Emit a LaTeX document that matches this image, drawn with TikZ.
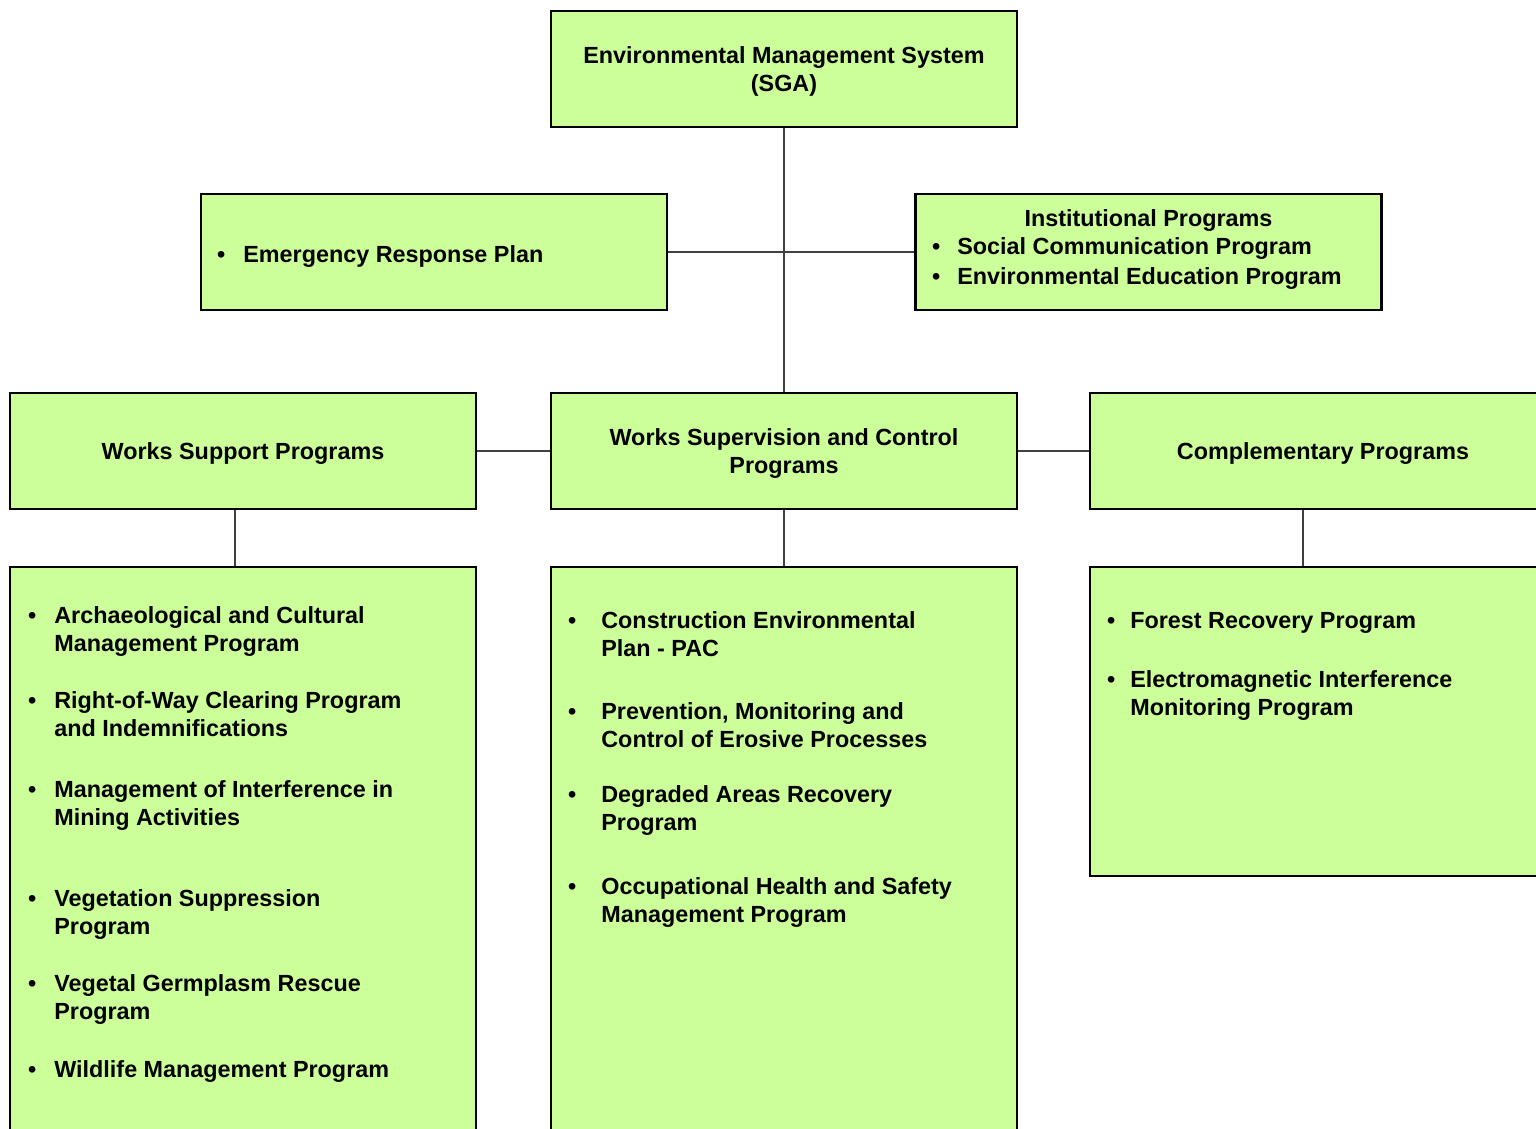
\documentclass[tikz,border=0pt]{standalone}
\usepackage{fontspec}
\setmainfont{Liberation Sans}
\usepackage{tikz}
\usetikzlibrary{positioning, calc}
\definecolor{boxgreen}{HTML}{CCFF99}
\definecolor{linkgray}{HTML}{404040}
\newcommand{\progfont}{\fontsize{13.3}{15.9}\selectfont}
\newcommand{\bul}[1]{\llap{\textbullet\hspace{#1}}}
\tikzstyle{pbox}    = [rectangle, draw=black, line width=1.6pt, fill=boxgreen,
                       minimum width=9.32cm, minimum height=2.32cm, inner sep=0pt,
                       text depth=0pt, align=center, font=\bfseries\progfont]
\tikzstyle{listbox} = [rectangle, draw=black, line width=1.6pt, fill=boxgreen,
                       minimum width=9.32cm, inner sep=0pt]
\tikzstyle{entry}   = [anchor=base west, align=left, inner sep=0pt,
                       font=\bfseries\progfont]
\tikzstyle{link}    = [draw=linkgray, line width=0.9pt]

\begin{document}
\begin{tikzpicture}[x=0.02cm, y=-0.02cm]
  \useasboundingbox (0,0) rectangle (1536,1129);
  \clip (0,0) rectangle (1536,1129);

  %% Top level
  \node[pbox] (sga) at (784,69) {Environmental Management System\\(SGA)};

  %% Second row
  \node[pbox] (erp) at (434,252) {};
  \node[entry] (erp1) at (243,262) {\bul{0.36cm}Emergency Response Plan};
  \node[pbox] (inst) at (1148.5,252) {};
  \node[font=\bfseries\progfont, anchor=base, inner sep=0pt] (insttitle)
        at (1148.5,226) {Institutional Programs};
  \node[entry] (inst1) at (957,254) {\bul{0.34cm}Social Communication Program};
  \node[entry] (inst2) at (957,284) {\bul{0.34cm}Environmental Education Program};

  %% Program groups
  \node[pbox] (wsp)  at (243,451)  {Works Support Programs};
  \node[pbox] (wsc)  at (784,451)  {Works Supervision and Control\\Programs};
  \node[pbox] (comp) at (1323,451) {Complementary Programs};

  %% Program lists (base of a two-line entry sits on its last line)
  \node[listbox, minimum height=11.9cm] (wsplist)  at (243,864.5)  {};
  \node[listbox, minimum height=11.9cm] (wsclist)  at (784,864.5)  {};
  \node[listbox, minimum height=6.18cm] (complist) at (1323,721.5) {};

  \node[entry] (wsp1) at (54,651)  {\bul{0.36cm}Archaeological and Cultural\\Management Program};
  \node[entry] (wsp2) at (54,736)  {\bul{0.36cm}Right-of-Way Clearing Program\\and Indemnifications};
  \node[entry] (wsp3) at (54,825)  {\bul{0.36cm}Management of Interference in\\Mining Activities};
  \node[entry] (wsp4) at (54,934)  {\bul{0.36cm}Vegetation Suppression\\Program};
  \node[entry] (wsp5) at (54,1019) {\bul{0.36cm}Vegetal Germplasm Rescue\\Program};
  \node[entry] (wsp6) at (54,1077) {\bul{0.36cm}Wildlife Management Program};

  \node[entry] (wsc1) at (601,656) {\bul{0.5cm}Construction Environmental\\Plan - PAC};
  \node[entry] (wsc2) at (601,747) {\bul{0.5cm}Prevention, Monitoring and\\Control of Erosive Processes};
  \node[entry] (wsc3) at (601,830) {\bul{0.5cm}Degraded Areas Recovery\\Program};
  \node[entry] (wsc4) at (601,922) {\bul{0.5cm}Occupational Health and Safety\\Management Program};

  \node[entry] (comp1) at (1130,628) {\bul{0.3cm}Forest Recovery Program};
  \node[entry] (comp2) at (1130,715) {\bul{0.3cm}Electromagnetic Interference\\Monitoring Program};

  %% Connectors
  \draw[link] (sga) -- (wsc);
  \draw[link] (erp) -- (inst);
  \draw[link] (wsp) -- (wsc);
  \draw[link] (wsc) -- (comp);
  \draw[link] ([xshift=-0.16cm]wsp.south) -- ([xshift=-0.16cm]wsplist.north);
  \draw[link] (wsc) -- (wsclist);
  \draw[link] ([xshift=-0.4cm]comp.south) -- ([xshift=-0.4cm]complist.north);

\end{tikzpicture}
\end{document}
